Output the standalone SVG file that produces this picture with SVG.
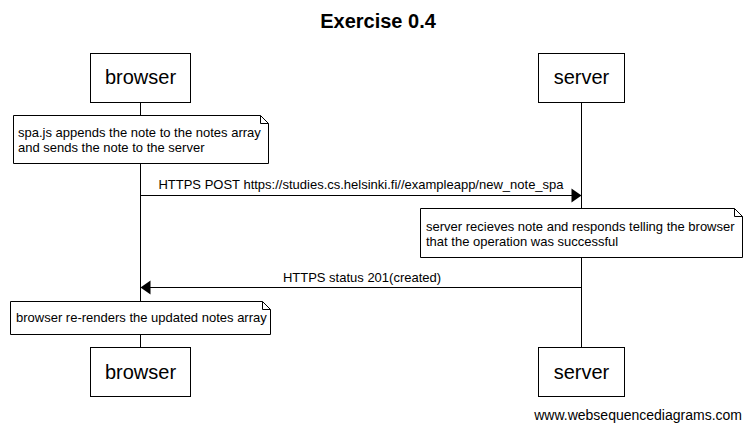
<svg xmlns="http://www.w3.org/2000/svg" width="752" height="431" viewBox="0 0 752 431">
<style>
text{font-family:"Liberation Sans",Arial,sans-serif;fill:#000}
.actor rect{fill:#fff;stroke:#000;stroke-width:1}
.actor text{font-size:20px;text-anchor:middle}
.note path{fill:#fff;stroke:#000;stroke-width:1}
.note text{font-size:13px}
.life{stroke:#000;stroke-width:1}
.msg line{stroke:#000;stroke-width:1}
.msg text{font-size:13px;text-anchor:middle}
</style>
<rect x="0" y="0" width="752" height="431" fill="#fff"/>
<text x="378" y="28" font-size="20" font-weight="bold" text-anchor="middle">Exercise 0.4</text>
<g id="lifelines">
<line class="life" x1="140.5" y1="102" x2="140.5" y2="347"/>
<line class="life" x1="581.5" y1="102" x2="581.5" y2="347"/>
</g>
<g id="browser-top" class="actor"><rect x="90.5" y="53.5" width="100" height="49"/><text x="140.5" y="84">browser</text></g>
<g id="server-top" class="actor"><rect x="538.5" y="53.5" width="86" height="49"/><text x="581.5" y="84">server</text></g>
<g id="note1" class="note"><path d="M13.5 115.5 H260.5 L268.5 123.5 V163.5 H13.5 Z M260.5 115.5 V123.5 H268.5"/><text x="18" y="137">spa.js appends the note to the notes array</text><text x="18" y="152">and sends the note to the server</text></g>
<g id="connectors">
<g class="msg"><line x1="140.5" y1="195.5" x2="572" y2="195.5"/><polygon points="571.5,188.5 581.5,195.5 571.5,202.5"/><text x="361" y="189">HTTPS POST https://studies.cs.helsinki.fi//exampleapp/new_note_spa</text></g>
<g class="msg"><line x1="150" y1="287.5" x2="581.5" y2="287.5"/><polygon points="150.5,280.5 140.5,287.5 150.5,294.5"/><text x="362" y="282">HTTPS status 201(created)</text></g>
</g>
<g id="note2" class="note"><path d="M420.5 208.5 H734.5 L742.5 216.5 V257.5 H420.5 Z M734.5 208.5 V216.5 H742.5"/><text x="426" y="230.5">server recieves note and responds telling the browser</text><text x="426" y="245.5">that the operation was successful</text></g>
<g id="note3" class="note"><path d="M10.5 301.5 H262.5 L270.5 309.5 V334.5 H10.5 Z M262.5 301.5 V309.5 H270.5"/><text x="16" y="322">browser re-renders the updated notes array</text></g>
<g id="browser-bottom" class="actor"><rect x="90.5" y="347.5" width="100" height="49"/><text x="140.5" y="379">browser</text></g>
<g id="server-bottom" class="actor"><rect x="538.5" y="347.5" width="86" height="49"/><text x="581.5" y="379">server</text></g>
<text x="742" y="420" font-size="14" text-anchor="end">www.websequencediagrams.com</text>
</svg>
